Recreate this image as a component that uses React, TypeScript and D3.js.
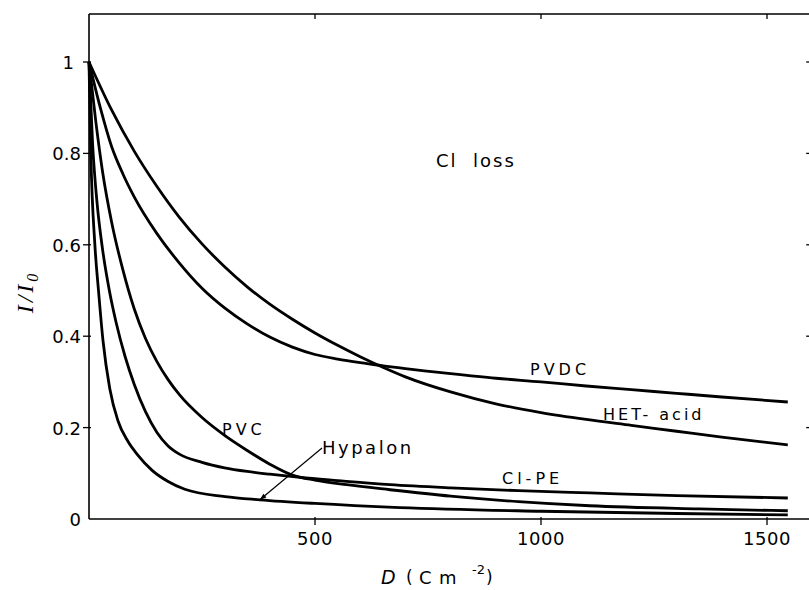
import React from 'react';
import * as d3 from 'd3';

// dose D (C m^-2) and relative intensity I/I0
const hetD = [0, 50, 100, 150, 200, 250, 300, 350, 400, 450, 500, 550, 600, 650, 700, 800, 900, 1000, 1100, 1200, 1300, 1400, 1546];
const hetI = [1, 0.895, 0.805, 0.728, 0.66, 0.602, 0.552, 0.508, 0.47, 0.437, 0.407, 0.38, 0.355, 0.332, 0.311, 0.278, 0.252, 0.233, 0.218, 0.205, 0.192, 0.179, 0.162];

const pvdcD = [0, 25, 50, 75, 100, 150, 200, 250, 300, 350, 400, 450, 500, 550, 600, 700, 800, 900, 1000, 1100, 1200, 1300, 1400, 1546];
const pvdcI = [1, 0.9, 0.815, 0.755, 0.705, 0.625, 0.56, 0.505, 0.462, 0.427, 0.398, 0.376, 0.36, 0.35, 0.342, 0.329, 0.318, 0.308, 0.3, 0.291, 0.283, 0.275, 0.267, 0.256];

const pvcD = [0, 15, 30, 50, 75, 100, 125, 150, 175, 200, 250, 300, 350, 400, 450, 500, 570, 666, 800, 950, 1108, 1350, 1546];
const pvcI = [1, 0.87, 0.76, 0.65, 0.545, 0.46, 0.395, 0.345, 0.305, 0.272, 0.222, 0.183, 0.15, 0.12, 0.096, 0.085, 0.075, 0.064, 0.05, 0.038, 0.029, 0.022, 0.018];

const clpeD = [0, 8, 18, 30, 45, 60, 80, 100, 125, 150, 175, 200, 250, 300, 350, 400, 467, 550, 666, 800, 950, 1108, 1300, 1546];
const clpeI = [1, 0.82, 0.69, 0.59, 0.5, 0.43, 0.355, 0.295, 0.235, 0.19, 0.16, 0.142, 0.124, 0.112, 0.104, 0.098, 0.091, 0.084, 0.075, 0.068, 0.062, 0.057, 0.051, 0.046];

const hypD = [0, 4, 13, 21, 31, 46, 64, 86, 108, 139, 175, 212, 301, 378, 500, 688, 1000, 1300, 1546];
const hypI = [1, 0.8, 0.6, 0.5, 0.39, 0.285, 0.215, 0.17, 0.14, 0.107, 0.082, 0.065, 0.049, 0.042, 0.034, 0.025, 0.017, 0.012, 0.009];

const xTicks = [500, 1000, 1500];
const yTicks = [0, 0.2, 0.4, 0.6, 0.8, 1];
const yTickLabels = ['0', '0.2', '0.4', '0.6', '0.8', '1'];

const series = [
  { name: 'HET-acid', d: hetD, v: hetI },
  { name: 'PVDC', d: pvdcD, v: pvdcI },
  { name: 'PVC', d: pvcD, v: pvcI },
  { name: 'Cl-PE', d: clpeD, v: clpeI },
  { name: 'Hypalon', d: hypD, v: hypI },
];

const W = 809;
const H = 590;
const left = 89;
const bottom = 519;

export default function App() {
  const x = d3.scaleLinear().domain([0, 1600]).range([left, left + 723.2]);
  const y = d3.scaleLinear().domain([0, 1]).range([bottom, 62]);
  const top = y(1.105);
  const right = x(1600);

  const line = d3
    .line<[number, number]>()
    .x(p => x(p[0]))
    .y(p => y(p[1]))
    .curve(d3.curveMonotoneX);

  const font = "'DejaVu Sans', sans-serif";

  // arrow for Hypalon
  const tipX = x(378);
  const tipY = y(0.042);
  const fromX = 322;
  const fromY = 448;
  const ang = Math.atan2(tipY - fromY, tipX - fromX);
  const ah = 7;
  const head = [
    [tipX, tipY],
    [tipX - ah * Math.cos(ang - 0.35), tipY - ah * Math.sin(ang - 0.35)],
    [tipX - ah * Math.cos(ang + 0.35), tipY - ah * Math.sin(ang + 0.35)],
  ];

  return (
    <div style={{ position: 'absolute', left: 0, top: 0 }}>
      <svg width={W} height={H} style={{ display: 'block', background: '#fff' }}>
        {/* frame */}
        <g stroke="#000" strokeWidth={1.6} fill="none">
          <line x1={left} y1={top} x2={left} y2={bottom} />
          <line x1={left} y1={top} x2={right} y2={top} />
          <line x1={left} y1={bottom} x2={right} y2={bottom} />
          <line x1={right} y1={top} x2={right} y2={bottom} />
        </g>

        {/* y ticks */}
        {yTicks.map((t, i) => (
          <g key={'y' + t}>
            {t > 0 && <line x1={left - 6} x2={left + 2} y1={y(t)} y2={y(t)} stroke="#000" strokeWidth={1.3} />}
            {t > 0 && <line x1={right - 6} x2={right} y1={y(t)} y2={y(t)} stroke="#000" strokeWidth={1.3} />}
            <text x={t === 1 ? left - 15 : left - 8} y={y(t) + 7} textAnchor="end" fontFamily={font} fontSize={18} fill="#000">
              {yTickLabels[i]}
            </text>
          </g>
        ))}

        {/* x ticks */}
        {xTicks.map(t => (
          <g key={'x' + t}>
            <line x1={x(t)} x2={x(t)} y1={bottom - 2} y2={bottom + 6} stroke="#000" strokeWidth={1.3} />
            <line x1={x(t)} x2={x(t)} y1={top} y2={top + 5} stroke="#000" strokeWidth={1.3} />
            <text x={x(t)} y={545} textAnchor="middle" fontFamily={font} fontSize={18} letterSpacing={0.5} fill="#000">
              {t}
            </text>
          </g>
        ))}

        {/* curves */}
        {series.map(s => (
          <path
            key={s.name}
            d={line(s.d.map((dv, i) => [dv, s.v[i]] as [number, number])) || ''}
            fill="none"
            stroke="#000"
            strokeWidth={2.8}
            strokeLinejoin="round"
          />
        ))}

        {/* labels */}
        <text x={436} y={167} fontFamily={font} fontSize={18} letterSpacing={2} fill="#000" style={{ whiteSpace: 'pre' }}>
          {'Cl  loss'}
        </text>
        <text x={530} y={375} fontFamily={font} fontSize={16} letterSpacing={4} fill="#000">PVDC</text>
        <text x={603} y={420} fontFamily={font} fontSize={16} letterSpacing={3} fill="#000" style={{ whiteSpace: 'pre' }}>
          {'HET- acid'}
        </text>
        <text x={222} y={435} fontFamily={font} fontSize={16} letterSpacing={4} fill="#000">PVC</text>
        <text x={322} y={454} fontFamily={font} fontSize={18} letterSpacing={2.5} fill="#000">Hypalon</text>
        <text x={502} y={484} fontFamily={font} fontSize={16} letterSpacing={4} fill="#000">Cl-PE</text>

        {/* Hypalon arrow */}
        <line x1={fromX} y1={fromY} x2={tipX} y2={tipY} stroke="#000" strokeWidth={1.2} />
        <polygon points={head.map(p => p.join(',')).join(' ')} fill="#000" />

        {/* x axis title */}
        <text x={381} y={584} fontFamily={font} fontSize={19} fontStyle="italic" fill="#000">D</text>
        <text x={406} y={583} fontFamily={font} fontSize={17} fill="#000">(</text>
        <text x={419} y={584} fontFamily={font} fontSize={18} fill="#000">C</text>
        <text x={439} y={584} fontFamily={font} fontSize={18} fill="#000">m</text>
        <text x={472} y={574} fontFamily={font} fontSize={13} fill="#000">-2</text>
        <text x={486} y={583} fontFamily={font} fontSize={17} fill="#000">)</text>

        {/* y axis title */}
        <g transform="translate(33,292) rotate(-90)">
          <text x={0} y={0} textAnchor="middle" fontFamily="'Liberation Serif', serif" fontSize={24} fontStyle="italic" letterSpacing={3} fill="#000">
            I/I<tspan fontSize={16} dy={5}>0</tspan>
          </text>
        </g>
      </svg>
    </div>
  );
}
